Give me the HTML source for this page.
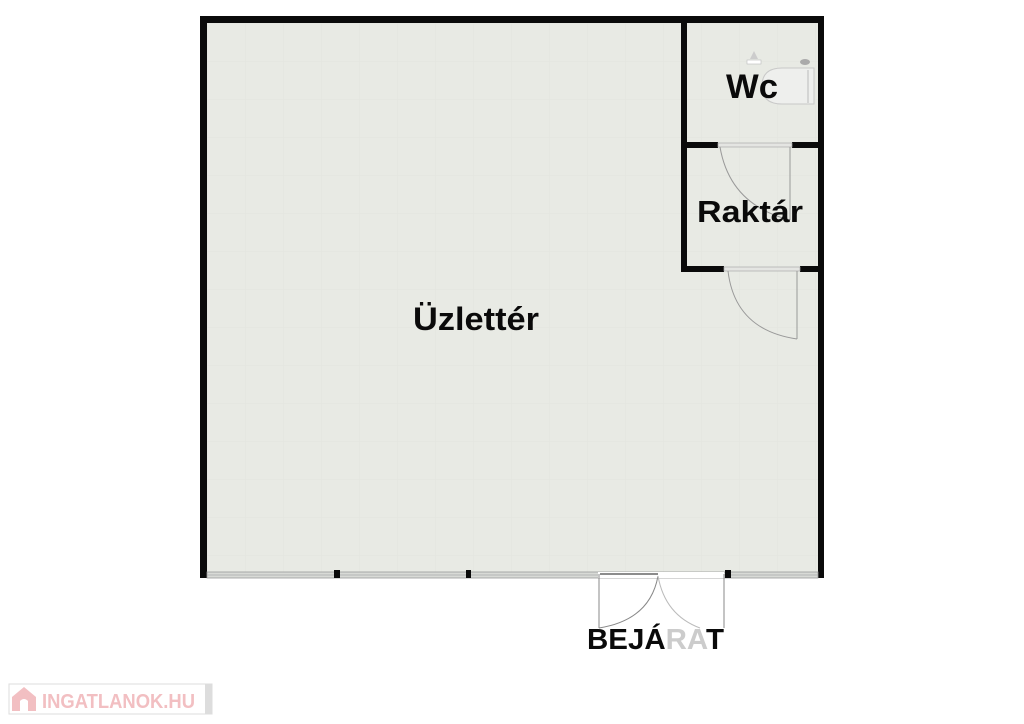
<!DOCTYPE html>
<html><head><meta charset="utf-8"><style>
html,body{margin:0;padding:0;background:#fff;}
svg{display:block}
text{font-family:"Liberation Sans",sans-serif;font-weight:bold;}
</style></head><body>
<svg width="1024" height="724" viewBox="0 0 1024 724" xmlns="http://www.w3.org/2000/svg">
<defs>
<pattern id="g" x="207" y="23" width="38" height="38" patternUnits="userSpaceOnUse">
<rect width="38" height="38" fill="#e8eae4"/>
<path d="M0 0H38M0 0V38" stroke="#e2e4de" stroke-width="1" fill="none"/>
</pattern>
</defs>
<rect x="200" y="16" width="624" height="560" fill="url(#g)"/>
<rect x="200" y="16" width="624" height="7" fill="#0a0a0a"/>
<rect x="200" y="16" width="7" height="562" fill="#0a0a0a"/>
<rect x="818" y="16" width="6" height="562" fill="#0a0a0a"/>
<rect x="207" y="572" width="611" height="6" fill="#d8dad6" stroke="#999" stroke-width="0.8"/>
<line x1="207" y1="575" x2="818" y2="575" stroke="#aaa" stroke-width="0.8"/>
<rect x="334" y="570" width="6" height="8" fill="#0a0a0a"/>
<rect x="466" y="570" width="5" height="8" fill="#0a0a0a"/>
<rect x="725" y="570" width="6" height="8" fill="#0a0a0a"/>
<rect x="598" y="572" width="126" height="6" fill="#fff"/>
<line x1="600" y1="574" x2="658" y2="574" stroke="#666" stroke-width="1.5"/>
<line x1="599" y1="574" x2="599" y2="628" stroke="#888" stroke-width="1"/>
<line x1="724" y1="574" x2="724" y2="628" stroke="#888" stroke-width="1"/>
<path d="M599 628 Q650 620 658 576" stroke="#888" fill="none" stroke-width="1"/>
<path d="M658 576 Q665 615 700 628" stroke="#bbb" fill="none" stroke-width="1"/>
<rect x="681" y="23" width="6" height="249" fill="#0a0a0a"/>
<rect x="681" y="142" width="37" height="6" fill="#0a0a0a"/>
<rect x="792" y="142" width="26" height="6" fill="#0a0a0a"/>
<rect x="681" y="266" width="43" height="6" fill="#0a0a0a"/>
<rect x="800" y="266" width="18" height="6" fill="#0a0a0a"/>
<rect x="718" y="143" width="74" height="4" fill="#e4e5e2" stroke="#aaa" stroke-width="0.7"/>
<line x1="790" y1="147" x2="790" y2="220" stroke="#999" stroke-width="1"/>
<path d="M720 147 Q730 205 790 220" stroke="#999" fill="none" stroke-width="1"/>
<rect x="724" y="267" width="76" height="4" fill="#e4e5e2" stroke="#aaa" stroke-width="0.7"/>
<line x1="797" y1="271" x2="797" y2="339" stroke="#999" stroke-width="1"/>
<path d="M728 271 Q735 330 797 339" stroke="#999" fill="none" stroke-width="1"/>
<path d="M782 68 L814 68 L814 104 L782 104 Q762 104 762 86 Q762 68 782 68Z" fill="#eeefed" stroke="#c8c8c8"/>
<line x1="808" y1="70" x2="808" y2="103" stroke="#bbb"/>
<rect x="747" y="60" width="14" height="4" fill="#fff" stroke="#bbb" stroke-width="0.6"/>
<path d="M750 59 L754 51 L758 59Z" fill="#ccc"/>
<ellipse cx="805" cy="62" rx="5" ry="3" fill="#aaa"/>
<text x="726" y="98" font-size="34" fill="#0a0a0a" textLength="52" lengthAdjust="spacingAndGlyphs">Wc</text>
<text x="697" y="222" font-size="31" fill="#0a0a0a" textLength="106" lengthAdjust="spacingAndGlyphs">Raktár</text>
<text x="413" y="330" font-size="32" fill="#0a0a0a" textLength="126" lengthAdjust="spacingAndGlyphs">Üzlettér</text>
<text x="587" y="649" font-size="29" fill="#0a0a0a" textLength="137" lengthAdjust="spacingAndGlyphs">BEJÁ<tspan fill="#ccc">RA</tspan>T</text>
<rect x="9" y="684" width="203" height="30" fill="#fff" stroke="#ddd"/>
<rect x="205" y="684" width="7" height="30" fill="#ddd"/>
<path d="M12 697 L24 687 L36 697 L36 711 L12 711Z" fill="#f2bfc2"/>
<path d="M20 711 V701 Q24 697 28 701 V711Z" fill="#fff"/>
<text x="42" y="708" font-size="20" fill="#f2bfc2" textLength="153" lengthAdjust="spacingAndGlyphs">INGATLANOK.HU</text>
</svg>
</body></html>
